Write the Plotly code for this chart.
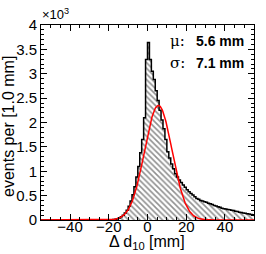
import numpy as np
import plotly.graph_objects as go

# ---- data ----
bin_lo = list(range(-55, 55))          # left edges of 1.0 mm bins
counts_left_zero = [0] * 35            # bins -55 .. -21
counts_rise = [2, 4, 8, 15, 26, 42, 65, 100, 145, 200, 280, 390, 520, 680, 880,
               1100, 1380, 1650, 2100, 3290]          # bins -20 .. -1
counts_peak_tail = [3640, 3290, 3050, 2880, 2650, 2450, 2250, 2050, 1870, 1650,
                    1400, 1270, 1150, 1050, 950, 880, 820, 770, 720, 670,
                    620, 580, 545, 515, 475, 440, 425, 398, 390, 372,
                    365, 345, 332, 318, 300, 288, 270, 262, 243, 232,
                    224, 214, 210, 200, 194, 180, 174, 160, 156, 146,
                    140, 128, 124, 114, 108]          # bins 0 .. 54
counts = counts_left_zero + counts_rise + counts_peak_tail

fit_mu = 5.6      # mm
fit_sigma = 7.1   # mm
fit_amp = 2350    # events

x_ticks = [-40, -20, 0, 20, 40]
y_ticks = [0, 500, 1000, 1500, 2000, 2500, 3000, 3500, 4000]
y_ticklabels = ["0", "0.5", "1", "1.5", "2", "2.5", "3", "3.5", "4"]

# ---- figure ----
edges = bin_lo + [bin_lo[-1] + 1]
step_y = counts + [counts[-1]]

x_fit = np.linspace(-55, 55, 551)
y_fit = fit_amp * np.exp(-0.5 * ((x_fit - fit_mu) / fit_sigma) ** 2)

fig = go.Figure()
fig.add_trace(go.Scatter(
    x=edges, y=step_y, mode="lines", line_shape="hv",
    line=dict(color="black", width=1.5),
    fill="tozeroy",
    fillpattern=dict(shape="\\", fgcolor="#222222", bgcolor="white",
                     size=4, solidity=0.4),
    hoverinfo="skip", showlegend=False))
fig.add_trace(go.Scatter(
    x=x_fit, y=y_fit, mode="lines",
    line=dict(color="#ff0000", width=1.5),
    hoverinfo="skip", showlegend=False))

font_family = "Liberation Sans, Arial, sans-serif"

fig.update_layout(
    width=266, height=254,
    margin=dict(l=41, r=12, t=25, b=34),
    paper_bgcolor="white", plot_bgcolor="white",
    font=dict(family=font_family, size=15, color="black"),
    showlegend=False,
)
fig.update_xaxes(
    range=[-55, 55], tickvals=x_ticks,
    ticks="inside", ticklen=6, tickwidth=1, tickcolor="black",
    minor=dict(dtick=5, ticks="inside", ticklen=3, tickcolor="black"),
    showline=True, linecolor="black", linewidth=1, mirror="ticks",
    showgrid=False, zeroline=False,
    tickfont=dict(size=15), ticklabelstandoff=-7,
)
fig.update_yaxes(
    range=[0, 4000], tickvals=y_ticks, ticktext=y_ticklabels,
    ticks="inside", ticklen=6, tickwidth=1, tickcolor="black",
    minor=dict(dtick=100, ticks="inside", ticklen=3, tickcolor="black"),
    showline=True, linecolor="black", linewidth=1, mirror="ticks",
    showgrid=False, zeroline=False,
    tickfont=dict(size=15),
)

pw, ph = 213.0, 195.0  # plot area size in px
def px_x(p):
    return (p - 41) / pw
def px_y(p):
    return (220 - p) / ph

ann = []
ann.append(dict(text="\u00d710<sup>3</sup>", xref="paper", yref="paper",
                x=px_x(40), y=px_y(14), xanchor="left", yanchor="middle",
                showarrow=False, font=dict(size=13)))
ann.append(dict(text="events per [1.0 mm]", xref="paper", yref="paper",
                x=px_x(9), y=px_y(127), xanchor="center", yanchor="middle",
                textangle=-90, showarrow=False, font=dict(size=16)))
ann.append(dict(text="\u0394 d<sub>10</sub> [mm]", xref="paper", yref="paper",
                x=px_x(147), y=px_y(242), xanchor="center", yanchor="middle",
                showarrow=False, font=dict(size=16)))
for sym, val, yc in [("\u03bc:", "5.6 mm", 41), ("\u03c3:", "7.1 mm", 63)]:
    ann.append(dict(text=sym, xref="paper", yref="paper",
                    x=px_x(168), y=px_y(yc), xanchor="left", yanchor="middle",
                    showarrow=False,
                    font=dict(size=15, family="DejaVu Serif, Liberation Serif, serif")))
    ann.append(dict(text="<b>" + val + "</b>", xref="paper", yref="paper",
                    x=px_x(194), y=px_y(yc), xanchor="left", yanchor="middle",
                    showarrow=False, font=dict(size=14)))
fig.update_layout(annotations=ann)

fig.write_html("out.html",
               config={"displayModeBar": False},
               post_script="document.body.style.margin='0';document.body.style.padding='0';")
